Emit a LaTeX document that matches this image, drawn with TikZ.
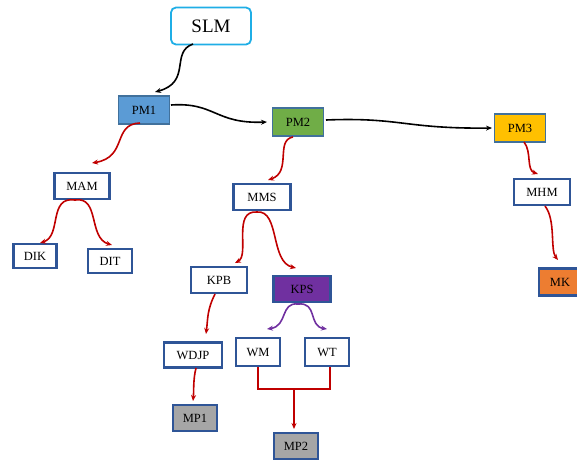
\documentclass[tikz,border=0pt]{standalone}
\usepackage{fontspec}
\setmainfont{Liberation Serif}
\usetikzlibrary{arrows.meta}
\definecolor{boxblue}{HTML}{2F5597}
\definecolor{pmedge}{HTML}{41719C}
\definecolor{cyanedge}{HTML}{1FAEE6}
\definecolor{pmone}{HTML}{5B9BD5}
\definecolor{pmtwo}{HTML}{70AD47}
\definecolor{pmthree}{HTML}{FFC000}
\definecolor{kpsfill}{HTML}{7030A0}
\definecolor{mkfill}{HTML}{ED7D31}
\definecolor{mpfill}{HTML}{A6A6A6}
\definecolor{redline}{HTML}{C00000}
\definecolor{purpline}{HTML}{7030A0}
\begin{document}
\begin{tikzpicture}[x=1pt,y=-1pt,
  lbl/.style={font=\fontsize{12.5}{14}\selectfont},
  wbox/.style={lbl,draw=boxblue,line width=2.2pt,fill=white,inner sep=0pt,minimum height=26pt},
  pmbox/.style={lbl,draw=pmedge,line width=1.4pt,inner sep=0pt,minimum height=28pt,minimum width=51pt},
  fbox/.style={lbl,draw=boxblue,line width=2.2pt,inner sep=0pt,minimum height=26pt},
  blk/.style={draw=black,line width=1.6pt,-{Stealth[length=6pt,width=5pt]}},
  redarr/.style={draw=redline,line width=1.6pt,-{Stealth[length=6pt,width=5pt]}},
  purparr/.style={draw=purpline,line width=1.6pt,-{Stealth[length=6pt,width=5pt]}},
  redln/.style={draw=redline,line width=1.6pt}
]
\useasboundingbox (0,0) rectangle (577,461);
% nodes
\node[draw=cyanedge,line width=1.8pt,rounded corners=5pt,minimum width=80pt,minimum height=37pt,inner sep=0pt,font=\fontsize{19}{22}\selectfont] (slm) at (211,26) {SLM};
\node[pmbox,fill=pmone] (pm1) at (144,110) {PM1};
\node[pmbox,fill=pmtwo] (pm2) at (298,122) {PM2};
\node[pmbox,fill=pmthree] (pm3) at (520,128) {PM3};
\node[wbox,minimum width=55pt] (mam) at (82,186) {MAM};
\node[wbox,minimum width=43pt,minimum height=24pt] (dik) at (35,256) {DIK};
\node[wbox,minimum width=44pt,minimum height=24pt] (dit) at (110,261) {DIT};
\node[wbox,minimum width=57pt] (mms) at (262,197) {MMS};
\node[wbox,minimum width=56pt] (kpb) at (219,280) {KPB};
\node[fbox,fill=kpsfill,minimum width=57pt] (kps) at (302,289) {KPS};
\node[wbox,minimum width=58pt,minimum height=25pt] (wdjp) at (193,355) {WDJP};
\node[wbox,minimum width=44pt,minimum height=28pt] (wm) at (258,352) {WM};
\node[wbox,minimum width=44pt,minimum height=28pt] (wt) at (327,352) {WT};
\node[fbox,fill=mpfill,minimum width=44pt] (mp1) at (195,418) {MP1};
\node[fbox,fill=mpfill,minimum width=44pt] (mp2) at (296,446) {MP2};
\node[wbox,minimum width=56pt] (mhm) at (542,192) {MHM};
\node[fbox,fill=mkfill,minimum width=42pt,minimum height=27pt] (mk) at (560,282) {MK};
% coordinates
\coordinate (slmA) at (193,44);
\coordinate (pm1A) at (155,92);
\coordinate (pm1R) at (171,105);
\coordinate (pm2L) at (267,122);
\coordinate (pm2R) at (326,120);
\coordinate (pm3L) at (492,128);
\coordinate (pm1B) at (140,123);
\coordinate (mamT) at (92,163);
\coordinate (pm2B) at (293,137);
\coordinate (mmsT) at (268,180);
\coordinate (mamB) at (75,200);
\coordinate (dikT) at (40,243);
\coordinate (ditT) at (112,245);
\coordinate (mmsB) at (257,212);
\coordinate (kpbT) at (235,263);
\coordinate (kpsT) at (296,268);
\coordinate (kpsB) at (298,304);
\coordinate (wmT) at (267,329);
\coordinate (wtT) at (327,329);
\coordinate (kpbB) at (215,294);
\coordinate (wdjpT) at (206,334);
\coordinate (wdjpB) at (196,368);
\coordinate (mp1T) at (193,401);
\coordinate (wmB) at (258,367);
\coordinate (wtB) at (330,367);
\coordinate (joinL) at (258,389);
\coordinate (joinR) at (330,389);
\coordinate (joinM) at (294,389);
\coordinate (mp2T) at (294,429);
\coordinate (pm3B) at (524,142);
\coordinate (mhmT) at (538,174);
\coordinate (mhmB) at (545,206);
\coordinate (mkT) at (558,260);
% black connectors
\draw[blk] (slmA) .. controls (170,52) and (192,82) .. (pm1A);
\draw[blk] (pm1R) .. controls (215,102) and (215,124) .. (pm2L);
\draw[blk] (pm2R) .. controls (400,117) and (405,129) .. (pm3L);
% red connectors
\draw[redarr] (pm1B) .. controls (112,124) and (128,157) .. (mamT);
\draw[redarr] (pm2B) .. controls (275,140) and (292,172) .. (mmsT);
\draw[redarr] (mamB) .. controls (48,196) and (62,236) .. (dikT);
\draw[redarr] (mamB) .. controls (100,196) and (88,238) .. (ditT);
\draw[redarr] (mmsB) .. controls (232,210) and (250,255) .. (kpbT);
\draw[redarr] (mmsB) .. controls (280,210) and (270,262) .. (kpsT);
\draw[redarr] (kpbB) .. controls (207,310) and (208,318) .. (wdjpT);
\draw[redarr] (wdjpB) .. controls (193,380) and (194,390) .. (mp1T);
\draw[redarr] (pm3B) .. controls (532,152) and (526,170) .. (mhmT);
\draw[redarr] (mhmB) .. controls (556,220) and (550,250) .. (mkT);
\draw[redln] (wmB) -- (joinL) -- (joinR) -- (wtB);
\draw[redarr] (joinM) -- (mp2T);
% purple connectors
\draw[purparr] (kpsB) .. controls (280,302) and (288,326) .. (wmT);
\draw[purparr] (kpsB) .. controls (318,302) and (308,326) .. (wtT);
\end{tikzpicture}
\end{document}
